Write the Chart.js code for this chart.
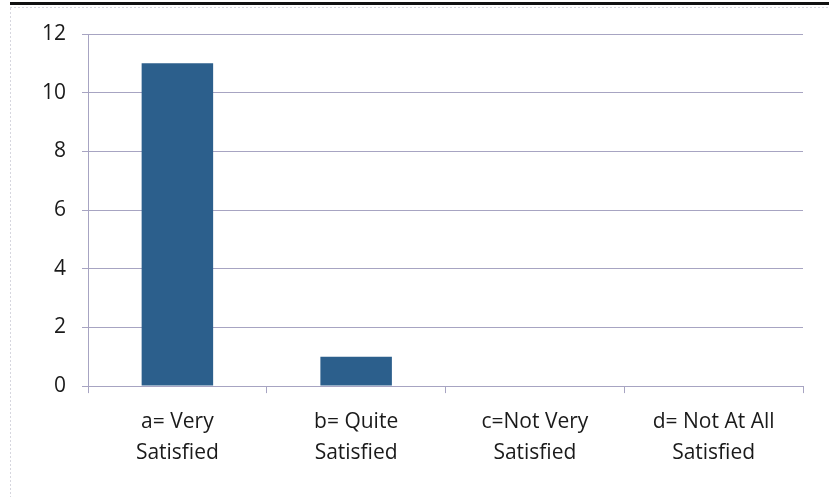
<!DOCTYPE html>
<html>
<head>
<meta charset="utf-8">
<script src="https://cdn.jsdelivr.net/npm/chart.js@4/dist/chart.umd.min.js"></script>
<style>
  html, body { margin: 0; padding: 0; background: #fff; }
  #wrap { width: 829px; height: 497px; }
</style>
</head>
<body>
<div id="wrap"><canvas id="satChart" width="829" height="497"></canvas></div>
<script>
// data
const categories = [
    ["a= Very", "Satisfied"],
    ["b= Quite", "Satisfied"],
    ["c=Not Very", "Satisfied"],
    ["d= Not At All", "Satisfied"]
];
const responses = [11, 1, 0, 0];
const yTicks = [0, 2, 4, 6, 8, 10, 12];

const gridColor = "#a7a4c2";
const fontFamily = "'Open Sans', Lato, sans-serif";

// thick rule at the top + faint frame, like the scanned page
const framePlugin = {
    id: "frame",
    beforeDraw(chart) {
        const ctx = chart.ctx;
        ctx.save();
        ctx.fillStyle = "#fff";
        ctx.fillRect(0, 0, chart.width, chart.height);
        ctx.fillStyle = "#111";
        ctx.fillRect(10, 2, chart.width - 10, 3);
        ctx.strokeStyle = "#d6d6de";
        ctx.setLineDash([2, 2]);
        ctx.lineWidth = 1;
        ctx.beginPath();
        ctx.moveTo(10.5, 8);
        ctx.lineTo(10.5, chart.height);
        ctx.moveTo(10, 7.5);
        ctx.lineTo(chart.width, 7.5);
        ctx.stroke();
        ctx.restore();
    }
};

new Chart(document.getElementById("satChart"), {
    type: "bar",
    data: {
        labels: categories,
        datasets: [{
            data: responses,
            backgroundColor: "#2c5f8c",
            borderWidth: 0,
            categoryPercentage: 0.8,
            barPercentage: 0.5
        }]
    },
    options: {
        responsive: false,
        animation: false,
        layout: { padding: { top: 34, right: 26, left: 26, bottom: 15 } },
        plugins: {
            legend: { display: false },
            tooltip: { enabled: false }
        },
        scales: {
            x: {
                grid: { display: true, drawOnChartArea: false, color: gridColor, tickLength: 7, offset: true },
                border: { color: gridColor, width: 1 },
                ticks: { color: "#1a1a1a", padding: 14, font: { family: fontFamily, size: 21, lineHeight: 1.45 }, maxRotation: 0 }
            },
            y: {
                min: 0,
                max: 12,
                afterBuildTicks: axis => { axis.ticks = yTicks.map(v => ({ value: v })); },
                grid: { color: gridColor, tickLength: 6 },
                border: { color: gridColor, width: 1 },
                ticks: { color: "#1a1a1a", padding: 16, font: { family: fontFamily, size: 21 } }
            }
        }
    },
    plugins: [framePlugin]
});
</script>
</body>
</html>
